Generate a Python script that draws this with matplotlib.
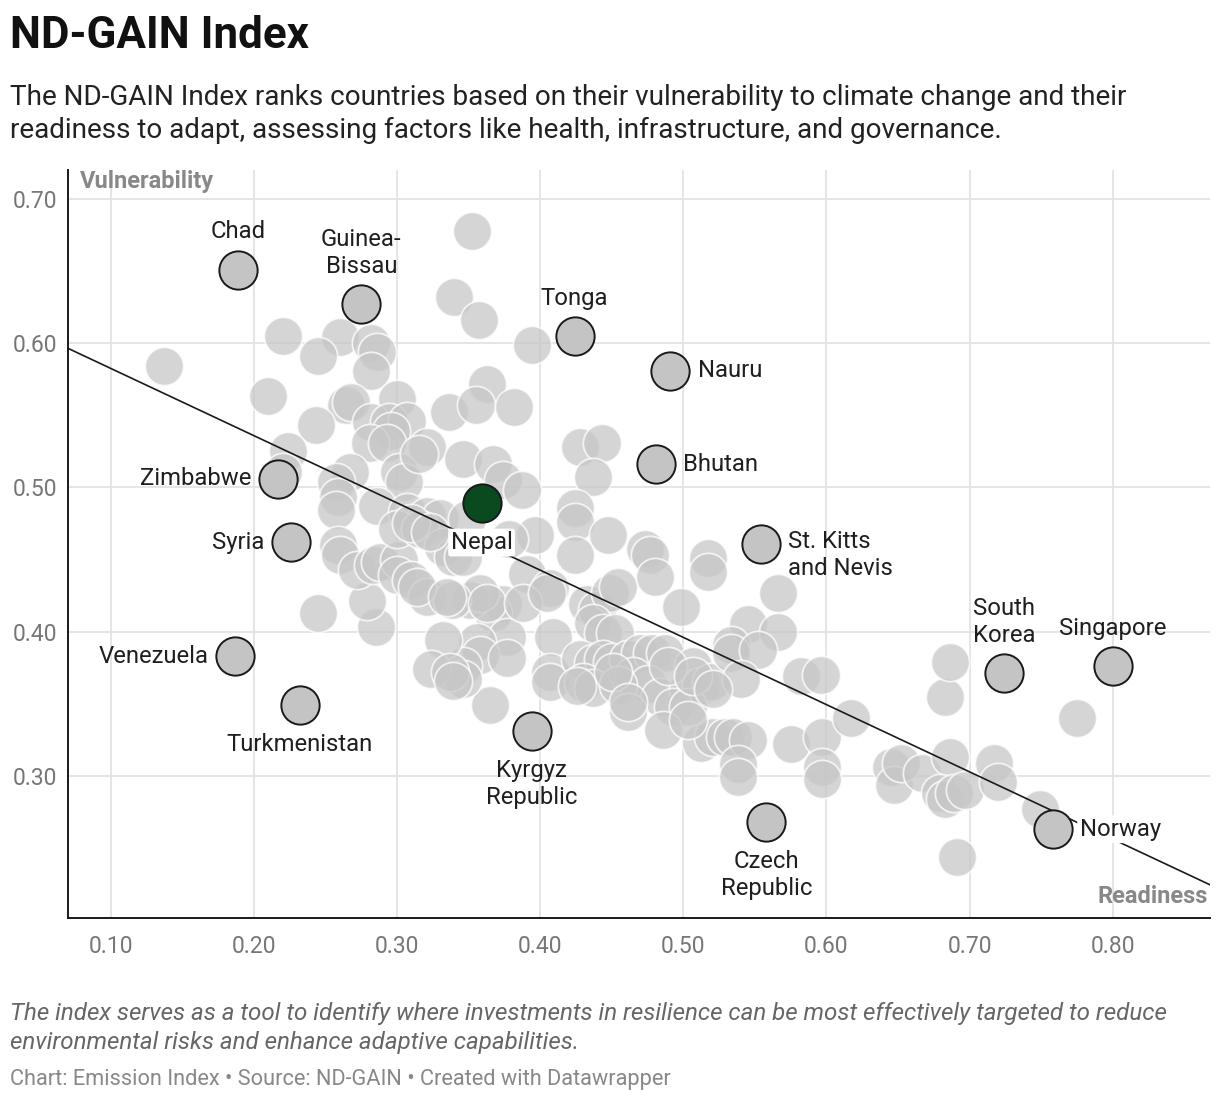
import matplotlib
matplotlib.use("Agg")
import matplotlib.pyplot as plt
import numpy as np

plt.rcParams['font.family'] = ['Roboto', 'DejaVu Sans']

# readiness (x) / vulnerability (y) for the unlabelled countries
readiness = [
    0.352, 0.340, 0.357, 0.137, 0.220, 0.260, 0.245, 0.282, 0.286, 0.282,
    0.394, 0.210, 0.264, 0.268, 0.243, 0.300, 0.282, 0.294, 0.307, 0.296,
    0.281, 0.293, 0.321, 0.336, 0.363, 0.355, 0.382, 0.224, 0.220, 0.267,
    0.257, 0.259, 0.257, 0.301, 0.305, 0.315, 0.346, 0.286, 0.307, 0.321,
    0.330, 0.349, 0.367, 0.374, 0.387, 0.428, 0.443, 0.437, 0.424, 0.424,
    0.447, 0.396, 0.378, 0.424, 0.473, 0.477, 0.480, 0.517, 0.517, 0.498,
    0.391, 0.407, 0.433, 0.440, 0.449, 0.437, 0.444, 0.452, 0.409, 0.374,
    0.367, 0.351, 0.358, 0.377, 0.356, 0.358, 0.377, 0.407, 0.407, 0.428,
    0.437, 0.444, 0.450, 0.461, 0.470, 0.478, 0.487, 0.507, 0.465, 0.475,
    0.484, 0.503, 0.365, 0.430, 0.437, 0.454, 0.346, 0.346, 0.332, 0.324,
    0.337, 0.339, 0.245, 0.285, 0.279, 0.259, 0.260, 0.272, 0.283, 0.288,
    0.301, 0.300, 0.310, 0.321, 0.338, 0.300, 0.316, 0.310, 0.332, 0.339,
    0.346, 0.323, 0.314, 0.335, 0.363, 0.388, 0.405, 0.454, 0.451, 0.461,
    0.426, 0.461, 0.489, 0.512, 0.519, 0.493, 0.503, 0.486, 0.566, 0.545,
    0.566, 0.533, 0.533, 0.552, 0.540, 0.582, 0.596, 0.575, 0.597, 0.617,
    0.597, 0.597, 0.512, 0.521, 0.529, 0.535, 0.545, 0.538, 0.538, 0.507,
    0.521, 0.503, 0.645, 0.647, 0.652, 0.667, 0.686, 0.679, 0.683, 0.689,
    0.697, 0.717, 0.720, 0.749, 0.691, 0.683, 0.686, 0.775,
]
vulnerability = [
    0.678, 0.632, 0.616, 0.584, 0.605, 0.604, 0.591, 0.600, 0.594, 0.581,
    0.599, 0.563, 0.557, 0.559, 0.543, 0.561, 0.545, 0.545, 0.546, 0.539,
    0.531, 0.531, 0.528, 0.552, 0.572, 0.557, 0.556, 0.525, 0.511, 0.511,
    0.504, 0.493, 0.484, 0.511, 0.504, 0.523, 0.520, 0.487, 0.483, 0.480,
    0.479, 0.478, 0.516, 0.505, 0.498, 0.528, 0.531, 0.507, 0.486, 0.476,
    0.467, 0.467, 0.464, 0.453, 0.457, 0.453, 0.438, 0.451, 0.441, 0.417,
    0.440, 0.430, 0.419, 0.415, 0.427, 0.406, 0.399, 0.399, 0.396, 0.419,
    0.413, 0.422, 0.427, 0.396, 0.393, 0.384, 0.382, 0.372, 0.365, 0.381,
    0.378, 0.381, 0.379, 0.381, 0.385, 0.385, 0.385, 0.376, 0.369, 0.364,
    0.355, 0.360, 0.349, 0.365, 0.361, 0.363, 0.376, 0.367, 0.394, 0.374,
    0.372, 0.366, 0.413, 0.403, 0.421, 0.460, 0.453, 0.443, 0.446, 0.448,
    0.450, 0.439, 0.436, 0.424, 0.422, 0.471, 0.471, 0.475, 0.459, 0.452,
    0.452, 0.469, 0.431, 0.424, 0.420, 0.420, 0.427, 0.431, 0.372, 0.344,
    0.362, 0.351, 0.376, 0.362, 0.365, 0.348, 0.348, 0.332, 0.427, 0.405,
    0.400, 0.391, 0.385, 0.387, 0.367, 0.369, 0.370, 0.322, 0.327, 0.340,
    0.306, 0.298, 0.323, 0.327, 0.327, 0.327, 0.325, 0.308, 0.299, 0.369,
    0.360, 0.339, 0.306, 0.294, 0.309, 0.302, 0.313, 0.288, 0.284, 0.288,
    0.290, 0.309, 0.296, 0.277, 0.244, 0.355, 0.379, 0.340,
]

# labelled countries
labels = ["Chad", "Guinea-\nBissau", "Tonga", "Nauru", "Bhutan", "Zimbabwe",
          "Nepal", "Syria", "St. Kitts\nand Nevis", "Venezuela", "Turkmenistan",
          "Kyrgyz\nRepublic", "Czech\nRepublic", "South\nKorea", "Singapore", "Norway"]
label_x = [0.189, 0.275, 0.424, 0.491, 0.481, 0.217, 0.359, 0.226, 0.554, 0.187,
           0.232, 0.394, 0.558, 0.724, 0.800, 0.758]
label_y = [0.651, 0.627, 0.605, 0.581, 0.516, 0.506, 0.489, 0.462, 0.461, 0.383,
           0.349, 0.331, 0.268, 0.371, 0.376, 0.263]
label_side = ["above", "above", "above", "right", "right", "left", "below", "left",
              "right2", "left", "below", "below", "below", "above", "above", "right"]

trend_slope = -0.466
trend_intercept = 0.629

fig = plt.figure(figsize=(12.2, 11.02), dpi=100)
ax = fig.add_axes([68 / 1220, 1 - 918 / 1102, 1142 / 1220, 748 / 1102])

ax.set_xlim(0.07, 0.868)
ax.set_ylim(0.2015, 0.72)

ax.scatter(readiness, vulnerability, s=760, facecolor=(0.78, 0.78, 0.78), alpha=0.75,
           edgecolor='white', linewidth=1.3, zorder=2)

xs = np.array(ax.get_xlim())
ax.plot(xs, trend_slope * xs + trend_intercept, color='#1a1a1a', lw=1.2, zorder=3)

for name, x, y in zip(labels, label_x, label_y):
    fc = '#0b4a1e' if name == 'Nepal' else '#c4c4c4'
    ax.scatter([x], [y], s=760, facecolor=fc, edgecolor='#1a1a1a', linewidth=1.4, zorder=4)

offsets = {
    "above": ((0, 19), 'center', 'bottom'),
    "below": ((0, -20), 'center', 'top'),
    "left": ((-19.5, 0), 'right', 'center'),
    "right": ((19.5, 0), 'left', 'center'),
    "right2": ((19.5, 10), 'left', 'top'),
}
for name, x, y, side in zip(labels, label_x, label_y, label_side):
    off, ha, va = offsets[side]
    kw = {}
    if name in ("Nepal", "Norway"):
        kw['bbox'] = dict(boxstyle='round,pad=0.1', facecolor='white', edgecolor='none')
    ax.annotate(name, (x, y), xytext=off, textcoords='offset points', ha=ha, va=va,
                fontsize=17.2, color='#1f1f1f', linespacing=1.22, zorder=5, **kw)

ax.set_xticks([0.1, 0.2, 0.3, 0.4, 0.5, 0.6, 0.7, 0.8])
ax.set_xticklabels(["0.10", "0.20", "0.30", "0.40", "0.50", "0.60", "0.70", "0.80"])
ax.set_yticks([0.3, 0.4, 0.5, 0.6, 0.7])
ax.set_yticklabels(["0.30", "0.40", "0.50", "0.60", "0.70"])
ax.tick_params(axis='both', length=0, labelsize=16.5, labelcolor='#777777')
ax.tick_params(axis='x', pad=12)
ax.tick_params(axis='y', pad=8)
ax.grid(True, color='#e3e3e3', lw=1.3, zorder=0)
ax.set_axisbelow(True)
for s in ['top', 'right']:
    ax.spines[s].set_visible(False)
for s in ['left', 'bottom']:
    ax.spines[s].set_color('#1a1a1a')
    ax.spines[s].set_linewidth(1.4)

ax.text(12 / 1142, 0.985, "Vulnerability", transform=ax.transAxes, ha='left', va='center',
        fontsize=17, fontweight='bold', color='#888888', zorder=6)
ax.text(0.998, 0.029, "Readiness", transform=ax.transAxes, ha='right', va='center',
        fontsize=17, fontweight='bold', color='#888888', zorder=6)

fig.text(10 / 1220, 1 - 36 / 1102, "ND-GAIN Index", ha='left', va='center',
         fontsize=31.6, fontweight='bold', color='#111111')
fig.text(10 / 1220, 1 - 114 / 1102,
         "The ND-GAIN Index ranks countries based on their vulnerability to climate change and their\n"
         "readiness to adapt, assessing factors like health, infrastructure, and governance.",
         ha='left', va='center', fontsize=20.1, color='#222222', linespacing=1.32)
fig.text(10 / 1220, 1 - 1028 / 1102,
         "The index serves as a tool to identify where investments in resilience can be most effectively targeted to reduce\n"
         "environmental risks and enhance adaptive capabilities.",
         ha='left', va='center', fontsize=17.4, style='italic', color='#666666', linespacing=1.28)
fig.text(10 / 1220, 1 - 1079 / 1102,
         "Chart: Emission Index \u2022 Source: ND-GAIN \u2022 Created with Datawrapper",
         ha='left', va='center', fontsize=15.7, color='#888888')

fig.savefig("out.png", dpi=100)
